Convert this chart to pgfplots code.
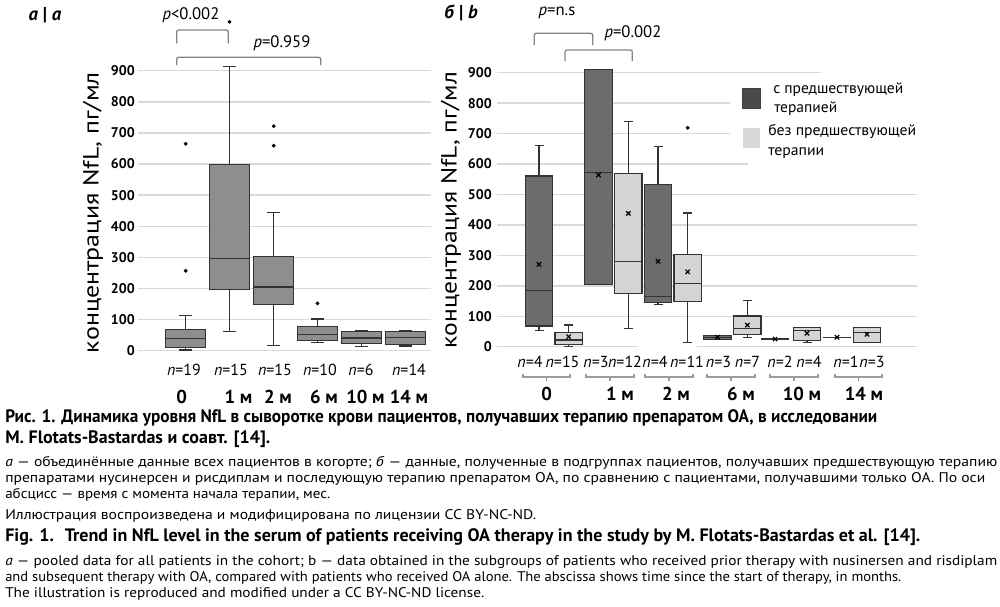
\documentclass[border=0pt]{standalone}
\usepackage{fontspec}
\setmainfont{PT Sans}
\usepackage{graphicx}
\usepackage{pgfplots}
\pgfplotsset{compat=1.18}
\usepgfplotslibrary{statistics}

\definecolor{gridgray}{HTML}{D9D9D9}
\definecolor{boxa}{HTML}{8E8E8E}
\definecolor{boxdark}{HTML}{6C6C6C}
\definecolor{boxlight}{HTML}{D4D4D4}
\definecolor{edge}{HTML}{333333}
\definecolor{brgray}{HTML}{858585}
\definecolor{legdark}{HTML}{4A4A4A}
\definecolor{leglight}{HTML}{D8D8D8}

\pgfplotsset{
  base/.style={
    anchor=south west, scale only axis,
    ymin=0, ymax=900, ytick={0,100,...,900}, xtick=\empty,
    ymajorgrids, grid style={gridgray, line width=1.1pt},
    axis line style={draw=none}, major tick length=0pt,
    clip=false,
    /pgf/number format/assume math mode=true,
    yticklabel style={font=\bfseries\fontsize{10.5}{12}\selectfont, inner sep=0pt},
    boxplot/draw direction=y,
  },
  bxstyle/.style={draw=edge, line width=0.9pt, fill=#1,
    mark=*, mark size=0.9pt, mark options={draw=black, fill=black}},
}

% #1 fill, #2 position, #3 lower whisker, #4 lower quartile, #5 median,
% #6 upper quartile, #7 upper whisker, #8 outliers
\newcommand{\bx}[8]{%
  \addplot[bxstyle=#1, boxplot prepared={draw position=#2,
    lower whisker=#3, lower quartile=#4, median=#5,
    upper quartile=#6, upper whisker=#7}] coordinates {#8};}

\newcommand{\capl}[4]{% baseline y, width pt, font, text
  \node[anchor=base west, inner sep=0pt] at (5,#1)
    {\resizebox{#2}{\height}{#3#4}};}

\begin{document}
\begin{tikzpicture}
\useasboundingbox (0pt,0pt) rectangle (750pt,-455.25pt);

% panel a: all patients
\begin{axis}[base, at={(103.5pt,-263.03pt)}, width=219.75pt, height=210pt,
  xmin=138, xmax=431, yticklabel style={xshift=-2.25pt},
  boxplot/box extend=40, boxplot/whisker extend=13]
\bx{boxa}{185.7}{2}{11}{40}{69}{114}{(0,257) (0,665)}
\bx{boxa}{229.5}{61}{197}{297}{599}{913}{(0,1057)}
\bx{boxa}{273.7}{18}{149}{205}{304}{443}{(0,659) (0,722)}
\bx{boxa}{317.5}{26}{33}{53}{79}{102}{(0,152)}
\bx{boxa}{361.7}{13}{24}{41}{62}{64}{}
\bx{boxa}{405.3}{15}{21}{42}{61}{65}{}
\end{axis}

% panel b: with / without prior therapy
\begin{axis}[base, at={(372.75pt,-260.03pt)}, width=315pt, height=205.5pt,
  xmin=497, xmax=917, yticklabel style={xshift=-3.75pt},
  boxplot/box extend=27.5, boxplot/whisker extend=9]
\bx{boxdark}{539}{53}{68}{185}{561}{660}{}
\bx{boxlight}{568.7}{2}{7}{22}{46}{71}{}
\bx{boxdark}{598.5}{205}{205}{572}{911}{911}{}
\bx{boxlight}{628.3}{60}{175}{279}{570}{741}{}
\bx{boxdark}{658}{139}{145}{164}{533}{657}{}
\bx{boxlight}{687.7}{14}{148}{207}{302}{439}{(0,719)}
\bx{boxdark}{717.5}{24}{24}{30}{36}{36}{}
\bx{boxlight}{747.3}{31}{41}{60}{101}{151}{}
\bx{boxdark}{775}{24}{24}{25}{26}{26}{}
\bx{boxlight}{807}{13}{20}{52}{62}{62}{}
\bx{boxdark}{837}{31}{31}{31}{31}{31}{}
\bx{boxlight}{867}{14}{14}{46}{64}{64}{}
\addplot[only marks, mark=x, mark size=2.3pt, line width=0.9pt, black]
  coordinates {(539,271) (568.7,33) (598.5,564) (628.3,438) (658,281)
  (687.7,246) (717.5,31) (747.3,71) (775,25) (807,44) (837,31) (867,41)};
\end{axis}

\begin{scope}[x=0.75pt, y=-0.75pt]
% gaps in the grid of panel b
\fill[white] (730,76) rectangle (922,158);
\fill[white] (748,158) rectangle (922,168);
\fill[white] (821,68) rectangle (922,76);
\fill[white] (638,344.5) rectangle (697,349);

% panel titles
\node[font=\bfseries\fontsize{14}{16}\selectfont] at (45,15) {\textit{а} | \textit{a}};
\node[font=\bfseries\fontsize{14}{16}\selectfont] at (461,13) {\textit{б} | \textit{b}};

% y labels
\node[rotate=90, inner sep=0pt] at (93,212.5)
  {\resizebox{210.75pt}{\height}{\fontsize{16.5}{18}\selectfont концентрация NfL, пг/мл}};
\node[rotate=90, inner sep=0pt] at (451,210)
  {\resizebox{207pt}{\height}{\fontsize{16.5}{18}\selectfont концентрация NfL, пг/мл}};

% significance brackets
\begin{scope}[draw=brgray, line width=1pt, rounded corners=1.5pt]
\draw (176.7,43.3) -- (176.7,30) -- (228.3,30) -- (228.3,43.3);
\draw (176.7,65) -- (176.7,57.3) -- (320.7,57.3) -- (320.7,65);
\draw (534.3,45) -- (534.3,33.3) -- (592.7,33.3) -- (592.7,45);
\draw (565,61) -- (565,50) -- (632.3,50) -- (632.3,61);
\end{scope}
\begin{scope}[font=\fontsize{12.5}{14}\selectfont]
\node at (191,15.7) {\textit{p}<0.002};
\node at (282,43.3) {\textit{p}=0.959};
\node at (557,13.3) {\textit{p}=n.s};
\node at (633,33.3) {\textit{p}=0.002};
\end{scope}

% group sizes
\begin{scope}[font=\fontsize{12}{14}\selectfont]
\foreach \x/\n in {184/19, 231/15, 275/15, 320/10, 361/6, 409/14}
  \node at (\x,370) {\textit{n}=\n};
\foreach \x/\n in {530/4, 562.5/15, 596/3, 625/12, 655/4, 687/11,
  718.5/3, 747.5/7, 780/2, 809/4, 846/1, 872/3}
  \node at (\x,362) {\textit{n}=\n};
\end{scope}

% group braces of panel b
\foreach \a/\b in {523/570, 586/634, 645/693, 707/755, 770/818, 835/882}
  \draw[brgray!80, line width=0.8pt] (\a,373.5) -- (\a,377) -- (\b,377) -- (\b,373.5)
    ({(\a+\b)/2},377) -- ({(\a+\b)/2},381);

% time since start of therapy
\begin{scope}[font=\bfseries\fontsize{14}{16}\selectfont]
\foreach \x/\t in {181.7/0, 238.5/1 м, 278/2 м, 324/6 м, 365.5/10 м, 409/14 м}
  \node at (\x,396.5) {\t};
\foreach \x/\t in {546.7/0, 620/1 м, 676/2 м, 741/6 м, 802/10 м, 864/14 м}
  \node at (\x,393.5) {\t};
\end{scope}

% legend
\filldraw[fill=legdark, draw=black!75, line width=0.6pt] (742,88) rectangle (760,108);
\fill[leglight] (743,128) rectangle (760,148);
\begin{scope}[inner sep=0pt, font=\fontsize{11.5}{13}\selectfont]
\node[anchor=base west] at (773,93) {\resizebox{97.5pt}{\height}{с предшествующей}};
\node[anchor=base west] at (774,112) {\resizebox{47.25pt}{\height}{терапией}};
\node[anchor=base west] at (768,135) {\resizebox{111pt}{\height}{без предшествующей}};
\node[anchor=base west] at (768,155) {\resizebox{42pt}{\height}{терапии}};
\end{scope}

% caption
\capl{422}{654pt}{\bfseries\fontsize{13.5}{15}\selectfont}{Рис. 1. Динамика уровня NfL в сыворотке крови пациентов, получавших терапию препаратом ОА, в исследовании}
\capl{443}{198.75pt}{\bfseries\fontsize{13.5}{15}\selectfont}{M. Flotats-Bastardas и соавт. [14].}
\capl{466}{744pt}{\fontsize{10.5}{12}\selectfont}{\textit{а} — объединённые данные всех пациентов в когорте; \textit{б} — данные, полученные в подгруппах пациентов, получавших предшествующую терапию}
\capl{482}{735pt}{\fontsize{10.5}{12}\selectfont}{препаратами нусинерсен и рисдиплам и последующую терапию препаратом ОА, по сравнению с пациентами, получавшими только ОА. По оси}
\capl{498}{243.75pt}{\fontsize{10.5}{12}\selectfont}{абсцисс — время с момента начала терапии, мес.}
\capl{519}{398.25pt}{\fontsize{10.5}{12}\selectfont}{Иллюстрация воспроизведена и модифицирована по лицензии CC BY-NC-ND.}
\capl{541}{686.25pt}{\bfseries\fontsize{13.5}{15}\selectfont}{Fig. 1. \ Trend in NfL level in the serum of patients receiving OA therapy in the study by M. Flotats-Bastardas et al. [14].}
\capl{565}{744pt}{\fontsize{10.5}{12}\selectfont}{\textit{a} — pooled data for all patients in the cohort; b — data obtained in the subgroups of patients who received prior therapy with nusinersen and risdiplam}
\capl{581}{672pt}{\fontsize{10.5}{12}\selectfont}{and subsequent therapy with OA, compared with patients who received OA alone. The abscissa shows time since the start of therapy, in months.}
\capl{597}{359.25pt}{\fontsize{10.5}{12}\selectfont}{The illustration is reproduced and modified under a CC BY-NC-ND license.}
\end{scope}
\end{tikzpicture}
\end{document}
